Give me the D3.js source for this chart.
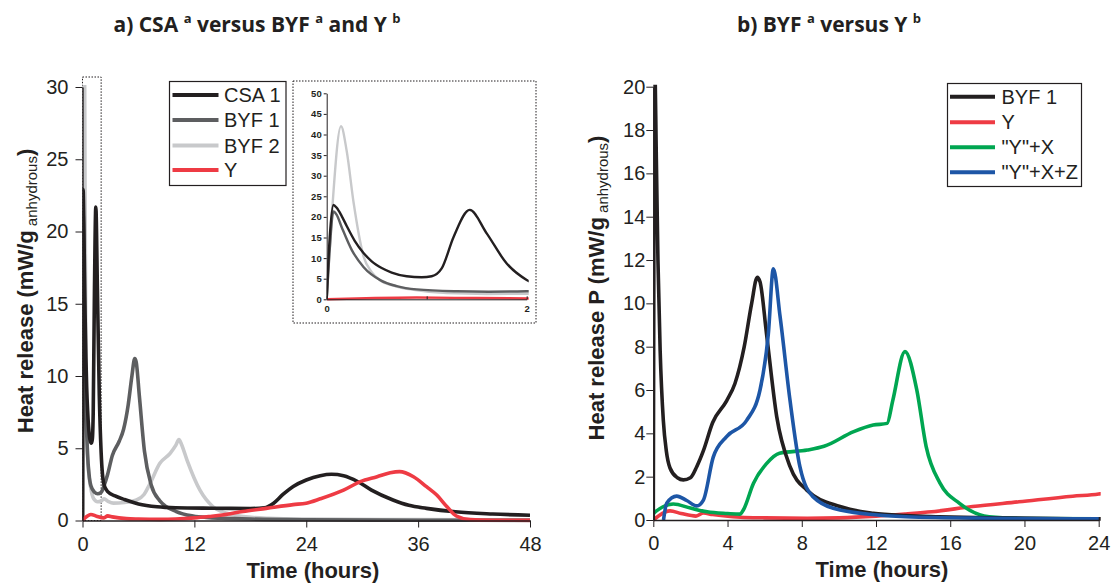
<!DOCTYPE html>
<html>
<head>
<meta charset="utf-8">
<script src="https://cdn.jsdelivr.net/npm/d3@7"></script>
<style>
  body { margin: 0; background: #fff; }
  svg { display: block; font-family: 'Liberation Sans', Arial, sans-serif; }
</style>
</head>
<body>
<svg id="chart" width="1115" height="588"></svg>
<script>
// [hours, mW/g]
const csa1 = [[0,0],[0.03,15],[0.067,22.9],[0.1,22.2],[0.15,20.2],[0.2,17.8],[0.28,14.2],[0.37,11.2],[0.45,9.2],[0.55,7.6],[0.65,6.5],[0.8,5.6],[0.95,5.35],[1.05,5.6],[1.15,7.5],[1.27,15.2],[1.43,21.7],[1.6,16],[1.8,8.7],[2.0,4.7],[2.3,2.5],[2.7,2.0],[3.5,1.7],[4.5,1.45],[6,1.15],[8,0.95],[10,0.88],[14,0.85],[18,0.83],[19.5,0.88],[20.5,1.2],[21.5,1.8],[22.6,2.35],[24,2.8],[25.5,3.1],[26.7,3.2],[28,3.1],[29.5,2.7],[31,2.1],[33.3,1.42],[35,1.05],[36.9,0.84],[40,0.6],[44,0.45],[48,0.36]]
const byf1 = [[0,0],[0.03,12],[0.067,21.3],[0.1,20.5],[0.15,17.5],[0.25,12],[0.37,7.8],[0.54,4.6],[0.7,3.2],[0.9,2.4],[1.3,1.95],[1.62,1.85],[2.0,1.95],[2.34,2.46],[2.7,3.2],[3.2,4.5],[3.95,5.5],[4.4,6.3],[4.9,8.0],[5.3,10.0],[5.6,11.2],[5.75,11.0],[6.1,8.6],[6.65,4.77],[7.37,2.46],[8.27,1.38],[10.06,0.62],[11.85,0.31],[13.6,0.2],[15.4,0.15],[18,0.1],[24,0.05],[36,0.02],[48,0.01]]
const byf2 = [[0,0],[0.05,20],[0.143,42],[0.2,36],[0.27,23.3],[0.37,10.3],[0.45,6.6],[0.53,4.7],[0.7,3.1],[0.87,2.3],[1.2,1.5],[1.6,1.3],[2.0,1.35],[2.3,1.5],[2.8,1.3],[3.3,1.2],[4.5,1.25],[5.8,1.42],[6.6,1.8],[7.2,2.5],[8.3,3.96],[9.4,4.65],[10.0,5.2],[10.35,5.6],[10.6,5.3],[11.2,4.2],[12.6,2.1],[14.0,0.95],[15.5,0.5],[17.2,0.27],[20,0.15],[24,0.1],[36,0.06],[48,0.05]]
const yRef = [[0,0],[0.3,0.2],[0.9,0.42],[1.5,0.3],[2.3,0.18],[2.7,0.32],[3.2,0.25],[4.7,0.13],[6,0.1],[8.3,0.08],[10,0.1],[12,0.18],[13.6,0.28],[15,0.38],[17.2,0.62],[19.7,0.84],[22.6,1.1],[24,1.2],[25.5,1.5],[28,2.1],[29.8,2.69],[31.6,3.03],[33,3.3],[34,3.38],[35.5,3.03],[36.9,2.34],[38,1.76],[39.1,0.95],[40.1,0.31],[41.6,0.06],[44,0.02],[48,0.01]]
const yX = [[0,0.3],[0.5,0.6],[1.08,0.74],[2.0,0.55],[2.9,0.38],[4.0,0.3],[4.67,0.27],[4.85,0.46],[5.4,1.7],[6.1,2.6],[6.8,3.08],[8.3,3.23],[9.2,3.4],[10.8,4.08],[11.85,4.38],[12.6,4.46],[12.9,5.5],[13.56,7.77],[14.2,6.0],[14.7,3.4],[15.45,1.7],[16.5,0.77],[18.1,0.15],[20,0.07],[24,0.05]]
const yXZ = [[0.55,0],[0.72,0.77],[1.26,1.1],[1.8,0.9],[2.34,0.65],[2.7,0.92],[3.23,2.9],[3.95,3.85],[5.03,4.6],[5.75,6.0],[6.2,8.6],[6.47,11.6],[6.83,9.4],[7.37,5.5],[7.9,2.46],[8.6,1.08],[10.06,0.46],[13.6,0.15],[18,0.08],[24,0.05]]

// series / legends
const seriesA = [
  { name: 'CSA 1', data: csa1, color: '#231f20' },
  { name: 'BYF 1', data: byf1, color: '#5d5e60' },
  { name: 'BYF 2', data: byf2, color: '#c8c9cb' },
  { name: 'Y', data: yRef, color: '#ee3b44' }
]
const seriesB = [
  { name: 'BYF 1', data: byf1, color: '#231f20' },
  { name: 'Y', data: yRef, color: '#ee3b44' },
  { name: '"Y"+X', data: yX, color: '#00a651' },
  { name: '"Y"+X+Z', data: yXZ, color: '#1d56a6' }
]
// draw order (bottom -> top)
const orderA = ['BYF 2', 'BYF 1', 'CSA 1', 'Y']
const orderB = ['Y', '"Y"+X', 'BYF 1', '"Y"+X+Z']

const ticksA = { x: [0, 12, 24, 36, 48], xMinor: d3.range(0, 49, 3), y: d3.range(0, 31, 5), yMinor: d3.range(0, 31, 1) }
const ticksB = { x: d3.range(0, 25, 4), xMinor: d3.range(0, 25, 1), y: d3.range(0, 21, 2), yMinor: d3.range(0, 21, 1) }
const ticksI = { x: [0, 1, 2], y: d3.range(0, 51, 5) }

const ink = '#231f20'
const svg = d3.select('#chart')

// scales
const xA = d3.scaleLinear([0, 48], [82.5, 530])
const yA = d3.scaleLinear([0, 30], [520.5, 87])
const xB = d3.scaleLinear([0, 24], [653.3, 1098.7])
const yB = d3.scaleLinear([0, 20], [520, 86.7])
const xI = d3.scaleLinear([0, 2], [326.7, 526.7])
const yI = d3.scaleLinear([0, 50], [299.3, 93.3])

function clip(id, x, y) {
  svg.append('clipPath').attr('id', id).append('rect')
    .attr('x', x.range()[0]).attr('y', y.range()[1] - 2)
    .attr('width', x.range()[1] - x.range()[0] + 2)
    .attr('height', y.range()[0] - y.range()[1] + 4)
}

function lines(id, series, order, x, y, width) {
  const line = d3.line().x(d => x(d[0])).y(d => y(d[1])).curve(d3.curveMonotoneX)
  const g = svg.append('g').attr('clip-path', `url(#${id})`)
  order.forEach(n => {
    const s = series.find(d => d.name === n)
    g.append('path').attr('d', line(s.data))
      .attr('fill', 'none').attr('stroke', s.color)
      .attr('stroke-width', width).attr('stroke-linejoin', 'round')
  })
}

function axes(x, y, t, yPad) {
  const gx = svg.append('g').attr('transform', `translate(0,${y.range()[0]})`)
  gx.call(d3.axisBottom(x).tickValues(t.xMinor).tickSize(3.5).tickSizeOuter(0).tickFormat(''))
  gx.call(d3.axisBottom(x).tickValues(t.x).tickSize(7).tickSizeOuter(0).tickPadding(9))
  const gy = svg.append('g').attr('transform', `translate(${x.range()[0]},0)`)
  gy.call(d3.axisLeft(y).tickValues(t.yMinor).tickSize(3.5).tickSizeOuter(0).tickFormat(''))
  gy.call(d3.axisLeft(y).tickValues(t.y).tickSize(7).tickSizeOuter(0).tickPadding(yPad))
  ;[gx, gy].forEach(g => {
    g.selectAll('.domain').attr('stroke', ink).attr('stroke-width', 1.4)
    g.selectAll('line').attr('stroke', ink)
    g.selectAll('text').attr('fill', ink).style('font-size', '20px').style('font-family', 'Liberation Sans, Arial, sans-serif')
  })
}

function legend(series, x0, y0, w, h, lx1, lx2, tx, rows) {
  svg.append('rect').attr('x', x0).attr('y', y0).attr('width', w).attr('height', h)
    .attr('fill', '#fff').attr('stroke', ink).attr('stroke-width', 1.2)
  series.forEach((s, i) => {
    svg.append('line').attr('x1', lx1).attr('x2', lx2).attr('y1', rows[i]).attr('y2', rows[i])
      .attr('stroke', s.color).attr('stroke-width', 4)
    svg.append('text').attr('x', tx).attr('y', rows[i] + 7).text(s.name)
      .attr('fill', ink).style('font-size', '20px')
  })
}

function title(x, parts) {
  const t = svg.append('text').attr('x', x).attr('y', 32).attr('text-anchor', 'middle')
    .style('font-family', 'Open Sans, sans-serif').style('font-weight', 700)
    .style('font-size', '21px').attr('fill', ink)
  parts.forEach(p => {
    const s = t.append('tspan').text(p[0])
    if (p[1]) s.style('font-size', '13px').attr('dy', -9)
    else if (p[2]) s.attr('dy', 9)
  })
}

function yTitle(x, y, label) {
  const t = svg.append('text').attr('transform', `translate(${x},${y}) rotate(-90)`)
    .attr('text-anchor', 'middle').attr('fill', ink)
    .style('font-weight', 700).style('font-size', '22px')
  t.append('tspan').text(label)
  t.append('tspan').text(' anhydrous').style('font-weight', 400).style('font-size', '15px').attr('dy', 4)
  t.append('tspan').text(')').attr('dy', -4)
}

function xTitle(x, y) {
  svg.append('text').attr('x', x).attr('y', y).attr('text-anchor', 'middle')
    .attr('fill', ink).style('font-weight', 700).style('font-size', '22px').text('Time (hours)')
}

// ---- panel a ----
clip('clipA', xA, yA)
// zoom window marker
svg.append('rect').attr('x', xA(0)).attr('y', 77).attr('width', xA(2) - xA(0)).attr('height', yA(0) - 77)
  .attr('fill', 'none').attr('stroke', ink).attr('stroke-width', 1).attr('stroke-dasharray', '1.5,1.5')
lines('clipA', seriesA, orderA, xA, yA, 3.6)
axes(xA, yA, ticksA, 7)
legend(seriesA, 169.5, 81.5, 116.5, 104, 172.5, 218.5, 224, [95, 120, 145.5, 170])
title(257, [['a) CSA '], ['a', 1], [' versus BYF ', 0, 1], ['a', 1], [' and Y ', 0, 1], ['b', 1]])
yTitle(33, 291, 'Heat release (mW/g')
xTitle(313, 578)

// inset
svg.append('rect').attr('x', 293).attr('y', 81).attr('width', 243).attr('height', 242)
  .attr('fill', '#fff').attr('stroke', ink).attr('stroke-width', 1).attr('stroke-dasharray', '1.5,1.5')
clip('clipI', xI, yI)
lines('clipI', seriesA, orderA, xI, yI, 2.4)
const gix = svg.append('g').attr('transform', `translate(0,${yI(0)})`)
  .call(d3.axisBottom(xI).tickValues(ticksI.x).tickSize(-3).tickSizeOuter(0).tickPadding(4)
    .tickFormat(d => d === 1 ? '' : d))
gix.selectAll('text').attr('dy', '0.95em')
const giy = svg.append('g').attr('transform', `translate(${xI(0)},0)`)
  .call(d3.axisLeft(yI).tickValues(ticksI.y).tickSize(3).tickSizeOuter(0).tickPadding(2))
;[gix, giy].forEach(g => {
  g.selectAll('.domain').attr('stroke', ink).attr('stroke-width', 1)
  g.selectAll('line').attr('stroke', ink)
  g.selectAll('text').attr('fill', ink).style('font-size', '9.5px').style('font-weight', 700)
    .style('font-family', 'Liberation Sans, Arial, sans-serif')
})

// ---- panel b ----
clip('clipB', xB, yB)
lines('clipB', seriesB, orderB, xB, yB, 3.6)
axes(xB, yB, ticksB, 1)
legend(seriesB, 947.5, 83.5, 134, 103, 950, 995, 1001.5, [96.7, 122.3, 147.3, 172.3])
title(829, [['b) BYF '], ['a', 1], [' versus Y ', 0, 1], ['b', 1]])
yTitle(604, 288, 'Heat release P (mW/g')
xTitle(882, 577)
</script>
</body>
</html>
